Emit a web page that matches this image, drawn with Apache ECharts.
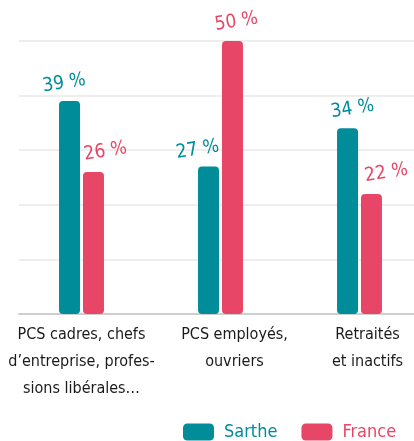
<!DOCTYPE html>
<html><head><meta charset="utf-8">
<script src="https://cdn.jsdelivr.net/npm/echarts@6/dist/echarts.min.js"></script>
<style>html,body{margin:0;padding:0;background:#fff}#c{width:414px;height:441px}</style>
</head><body><div id="c"></div>
<script>
const categories = ["PCS cadres, chefs\nd\u2019entreprise, profes-\nsions libérales\u2026", "PCS employés,\nouvriers", "Retraités\net inactifs"];
const seriesNames = ["Sarthe", "France"];
const sartheValues = [39, 27, 34];
const franceValues = [26, 50, 22];
const yTicks = [0, 10, 20, 30, 40, 50];

const TEAL = '#008c99';
const RED = '#e84666';
const FONT = "'DejaVu Sans Condensed', 'Roboto', 'Liberation Sans', sans-serif";

const catShift = [0, 14, 8];
const sartheLabelDx = [-4, -9.5, 6.5];
const franceLabelDx = [13.5, 5.5, 16.5];

function mkData(vals, dxs) {
  return vals.map((v, i) => ({ value: v, label: { offset: [dxs[i], 0] } }));
}

const rich = {};
catShift.forEach((s, i) => {
  rich['c' + i] = { fontFamily: FONT, fontSize: 16, lineHeight: 27, color: '#1a1a1a', padding: [0, 0, 0, 2 * s] };
});

const chart = echarts.init(document.getElementById('c'), null, { renderer: 'canvas' });
chart.setOption({
  animation: false,
  backgroundColor: '#fff',
  grid: [
    { left: 19, right: 0, top: 41, bottom: 127, outerBoundsMode: 'none' },
    { left: 12, right: -15, top: 41, bottom: 127, outerBoundsMode: 'none' }
  ],
  xAxis: [
    { gridIndex: 0, type: 'category', data: categories, axisLine: { show: true, lineStyle: { color: '#cfcfcf', width: 2 } }, axisTick: { show: false }, axisLabel: { show: false } },
    { gridIndex: 1, type: 'category', data: categories, axisLine: { show: false }, axisTick: { show: false },
      axisLabel: { interval: 0, margin: 7, formatter: (v, i) => v.split('\n').map(l => '{c' + i + '|' + l + '}').join('\n'), rich: rich } }
  ],
  yAxis: [
    { gridIndex: 0, type: 'value', min: yTicks[0], max: yTicks[yTicks.length - 1], interval: 10,
      axisLine: { show: false }, axisTick: { show: false }, axisLabel: { show: false },
      splitLine: { lineStyle: { color: '#e8e8e8', width: 1.5 } } },
    { gridIndex: 1, type: 'value', min: yTicks[0], max: yTicks[yTicks.length - 1], interval: 10,
      axisLine: { show: false }, axisTick: { show: false }, axisLabel: { show: false }, splitLine: { show: false } }
  ],
  legend: {
    left: 183, top: 423, width: 231, padding: 0, itemWidth: 31, itemHeight: 17, itemGap: 24, icon: 'roundRect',
    textStyle: { fontFamily: FONT, fontSize: 18, padding: [0, 0, 0, 5] },
    data: [
      { name: seriesNames[0], textStyle: { color: TEAL } },
      { name: seriesNames[1], textStyle: { color: RED } }
    ]
  },
  series: [
    { name: seriesNames[0], type: 'bar', xAxisIndex: 1, yAxisIndex: 1, data: mkData(sartheValues, sartheLabelDx),
      barWidth: 21, barGap: '14%', itemStyle: { color: TEAL, borderRadius: 4 },
      label: { show: true, position: 'top', distance: 9, rotate: 9, color: TEAL, fontFamily: FONT, fontSize: 19, formatter: p => p.value + ' %' } },
    { name: seriesNames[1], type: 'bar', xAxisIndex: 1, yAxisIndex: 1, data: mkData(franceValues, franceLabelDx),
      barWidth: 21, barGap: '14%', itemStyle: { color: RED, borderRadius: 4 },
      label: { show: true, position: 'top', distance: 9, rotate: 9, color: RED, fontFamily: FONT, fontSize: 19, formatter: p => p.value + ' %' } }
  ]
});
</script></body></html>
